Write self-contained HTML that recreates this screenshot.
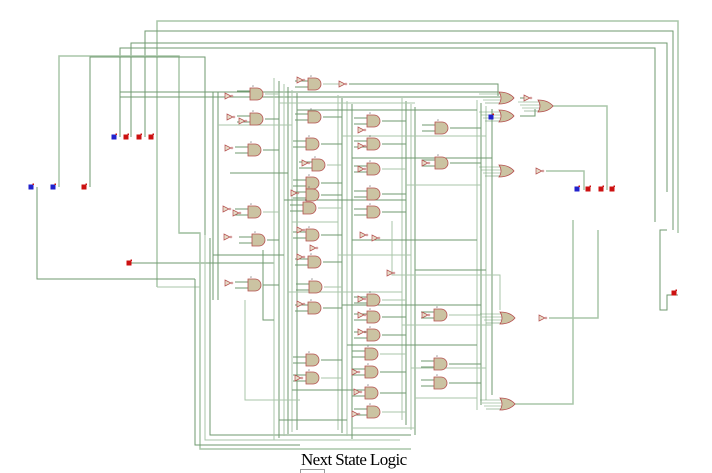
<!DOCTYPE html>
<html><head><meta charset="utf-8"><style>
html,body{margin:0;padding:0;background:#fff;width:712px;height:472px;overflow:hidden}
svg{position:absolute;left:0;top:0}
.t{position:absolute;left:301px;top:450px;font-family:"Liberation Serif",serif;font-size:17px;color:#000;letter-spacing:-0.6px}
.b{position:absolute;left:300px;top:469px;width:23px;height:3px;border:1px solid #999;border-bottom:none}
</style></head><body>
<svg id="s" width="712" height="472" xmlns="http://www.w3.org/2000/svg"></svg>
<div class="t">Next State Logic</div><div class="b"></div>
<script>
var s=document.getElementById('s'),h='';
function L(p,c,w){h+='<polyline points="'+p+'" fill="none" stroke="'+(c||'#5f8f5f')+'" stroke-width="'+(w||1)+'"/>';}
var G='#6f9a6f',G2='#a9c6a9';
// top loops
L('157,287 157,21 678,21 678,233',G2,1.5);
L('145,137 145,31 673,31 673,230',G);
L('131,137 131,43 667,43 667,192',G);
L('120,137 120,48 655,48 655,222',G);
L('59,187 59,56 179,56 179,233 200,233',G2,1.5);
L('90,187 90,57 205,57 205,235',G);
L('37,187 37,279 195,279',G);
L('157,287 200,287',G2);
L('667,230 660,230 660,310 667,310 667,295 678,295',G);
L('129,263 274,263',G);
L('120,92 498,92',G);L('120,97 500,97',G);
L('179,233 200,233 200,449 411,449',G2,1.5);
L('195,279 195,445 300,445',G);
L('205,235 205,440 400,440',G2);L('210,238 210,435 411,435',G);
// bus verticals
[274,279,284,288,292,297].forEach(function(x,i){L(x+','+(78+i*3)+' '+x+','+(440-i*2),i%2?G:G2);});
[338,342,347,352].forEach(function(x,i){L(x+','+(95+i*3)+' '+x+','+(430+i*3),i%2?G:G2);});
[402,406,411,415].forEach(function(x,i){L(x+','+(98+i*3)+' '+x+','+(420+i*5),i%2?G:G2);});
[477,481,486,492].forEach(function(x,i){L(x+','+(100+i*3)+' '+x+','+(410-i*5),i%2?G:G2);});
[213,218].forEach(function(x){L(x+',92 '+x+',300',G);});
// extra cross wires
[[279,415,103],[297,477,110],[342,486,136],[352,492,158],[406,481,185],[284,406,200],[292,338,222],[352,477,240],[338,411,255],[415,486,270],[288,402,292],[342,481,305],[402,492,325],[347,477,345],[411,486,368],[292,352,390],[415,477,398],[279,347,420],[352,415,428],[230,288,173],[218,292,125],[213,284,255]].forEach(function(a,i){L(a[0]+','+a[2]+' '+a[1]+','+a[2],i%2?G:G2);});
L('392,221 392,275 500,275 500,310',G2);L('245,300 245,400 300,400',G2);L('263,250 263,320 274,320',G);
// outputs
L('553,106 607,106 607,190',G2,1.5);L('546,171 584,171 584,190',G2,1.5);
L('549,318 598,318 598,230',G2,1.5);L('515,404 573,404 573,220',G2,1.5);
L('349,84 498,84 498,96',G);L('520,98 530,98',G);L('520,116 535,116 535,109',G);
// gates
var A=[[257,94],[257,119],[255,150],[255,212],[259,240],[255,285],[315,84],[315,117],[313,144],[319,165],[313,183],[313,195],[310,208],[313,235],[315,262],[316,287],[315,308],[313,360],[313,378],[374,121],[374,144],[374,169],[374,194],[374,212],[374,300],[374,317],[374,335],[372,354],[372,372],[372,393],[374,412],[442,128],[442,163],[441,315],[441,364],[441,383]];
var O=[[507,98],[507,116],[546,106],[507,171],[508,318],[508,404]];
var N=[[342,84],[527,98],[539,171],[542,318],[390,273],[363,235],[375,238],[228,96],[230,117],[242,121],[228,148],[226,209],[236,213],[227,237],[228,283],[300,80],[305,163],[294,193],[300,230],[313,248],[300,257],[300,304],[298,378],[361,130],[361,146],[361,169],[361,299],[361,315],[361,332],[355,372],[357,392],[355,414],[425,163],[425,315]];
A.forEach(function(g,i){var x=g[0],y=g[1];L((x-20)+','+(y-3)+' '+(x-7)+','+(y-3),G);L((x-20)+','+(y+3)+' '+(x-7)+','+(y+3),G);
 var tx=i<6?279:i<19?342:i<31?406:481;L((x+8)+','+y+' '+tx+','+y,i%3?G:G2);});
O.forEach(function(g){var x=g[0],y=g[1];[-4,-1,2,5].forEach(function(k,j){L((x-28+j*2)+','+(y+k)+' '+(x-6)+','+(y+k),G,0.6);});});
A.forEach(function(g){var x=g[0],y=g[1];h+='<path d="M'+(x-7)+','+(y-6)+'h7a6,6 0 0 1 0,12h-7z" fill="#cbc3a2" stroke="#b5504f" stroke-width="0.8"/><text x="'+(x-5)+'" y="'+(y-7)+'" font-size="2.5" font-family="Liberation Sans" fill="#555">U</text>';});
O.forEach(function(g){var x=g[0],y=g[1];h+='<path d="M'+(x-8)+','+(y-6)+'q4,6 0,12q10,0 15,-6q-5,-6 -15,-6z" fill="#cbc3a2" stroke="#b5504f" stroke-width="0.8"/>';});
N.forEach(function(g){var x=g[0],y=g[1];h+='<path d="M'+(x-3)+','+(y-3)+'l6,3l-6,3z" fill="#e6dcc8" stroke="#b5504f" stroke-width="0.7"/><circle cx="'+(x+4)+'" cy="'+y+'" r="1" fill="none" stroke="#b5504f" stroke-width="0.5"/>';});
[[31,187,'#2222cc'],[53,187,'#2222cc'],[84,187,'#cc1111'],[114,137,'#2222cc'],[126,137,'#cc1111'],[139,137,'#cc1111'],[151,137,'#cc1111'],[129,263,'#cc1111'],[491,117,'#2222cc'],[577,189,'#2222cc'],[588,189,'#cc1111'],[601,189,'#cc1111'],[612,189,'#cc1111'],[674,293,'#cc1111']].forEach(function(p){h+='<rect x="'+(p[0]-2.5)+'" y="'+(p[1]-2.5)+'" width="5" height="5" fill="'+p[2]+'"/><rect x="'+(p[0]+1.5)+'" y="'+(p[1]-3.5)+'" width="1.5" height="1.5" fill="#cc1111"/>';});
s.innerHTML=h;
</script>
</body></html>
